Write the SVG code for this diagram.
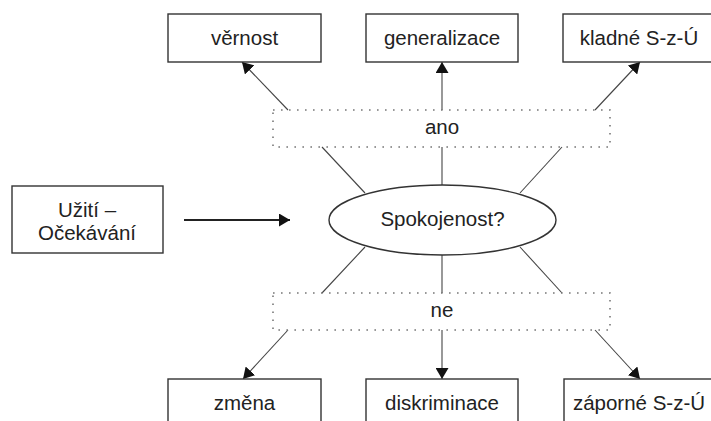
<svg xmlns="http://www.w3.org/2000/svg" width="711" height="421" viewBox="0 0 711 421">
<style>
.box{fill:#fff;stroke:#333;stroke-width:1.4}
.dot{fill:none;stroke:#777;stroke-width:1.6;stroke-dasharray:1.6 6.4}
.t{font-family:"Liberation Sans",Arial,sans-serif;font-size:20.5px;fill:#222;text-anchor:middle}
.ln{stroke:#444;stroke-width:1.1;fill:none}
.ar{stroke:#444;stroke-width:1.1;fill:none;marker-end:url(#ah)}
.ar2{stroke:#222;stroke-width:2;fill:none;marker-end:url(#ah)}
</style>
<defs>
<marker id="ah" markerUnits="userSpaceOnUse" markerWidth="12" markerHeight="13" refX="11" refY="6.5" orient="auto">
<path d="M0,0 L11,6.5 L0,13 z" fill="#111"/>
</marker>
</defs>
<rect width="711" height="421" fill="#fff"/>
<g id="connectors">
<line class="ar" x1="288" y1="110" x2="242" y2="62"/>
<line class="ar" x1="442" y1="110" x2="442" y2="62"/>
<line class="ar" x1="595" y1="110" x2="640" y2="62"/>
<line class="ln" x1="322" y1="147" x2="365" y2="193"/>
<line class="ln" x1="442" y1="147" x2="442" y2="185"/>
<line class="ln" x1="562" y1="147" x2="520" y2="193"/>
<line class="ln" x1="365" y1="247" x2="322" y2="293"/>
<line class="ln" x1="442" y1="255" x2="442" y2="293"/>
<line class="ln" x1="520" y1="247" x2="562" y2="293"/>
<line class="ar" x1="288" y1="330" x2="243" y2="379"/>
<line class="ar" x1="442" y1="330" x2="442" y2="379"/>
<line class="ar" x1="595" y1="330" x2="640" y2="379"/>
<line class="ar2" x1="184" y1="220" x2="290" y2="220"/>
</g>
<g id="vernost"><rect class="box" x="168" y="14" width="153" height="48"/><text class="t" x="244.5" y="45">věrnost</text></g>
<g id="generalizace"><rect class="box" x="366" y="14" width="152" height="48"/><text class="t" x="442" y="45">generalizace</text></g>
<g id="kladne"><rect class="box" x="563" y="14" width="152" height="48"/><text class="t" x="639" y="45">kladné S-z-Ú</text></g>
<g id="ano"><rect class="dot" x="273" y="110" width="337" height="37"/><text class="t" x="442" y="134">ano</text></g>
<g id="uziti"><rect class="box" x="12" y="186" width="151" height="67"/><text class="t" x="87" y="217">Užití –</text><text class="t" x="87" y="240">Očekávání</text></g>
<g id="spokojenost"><ellipse class="box" cx="442.5" cy="220" rx="113.5" ry="35"/><text class="t" x="442.5" y="226">Spokojenost?</text></g>
<g id="ne"><rect class="dot" x="273" y="293" width="337" height="37"/><text class="t" x="442" y="317">ne</text></g>
<g id="zmena"><rect class="box" x="168" y="379" width="153" height="48"/><text class="t" x="244.5" y="410">změna</text></g>
<g id="diskriminace"><rect class="box" x="366" y="379" width="152" height="48"/><text class="t" x="442" y="410">diskriminace</text></g>
<g id="zaporne"><rect class="box" x="564" y="379" width="152" height="48"/><text class="t" x="639" y="410">záporné S-z-Ú</text></g>
</svg>
